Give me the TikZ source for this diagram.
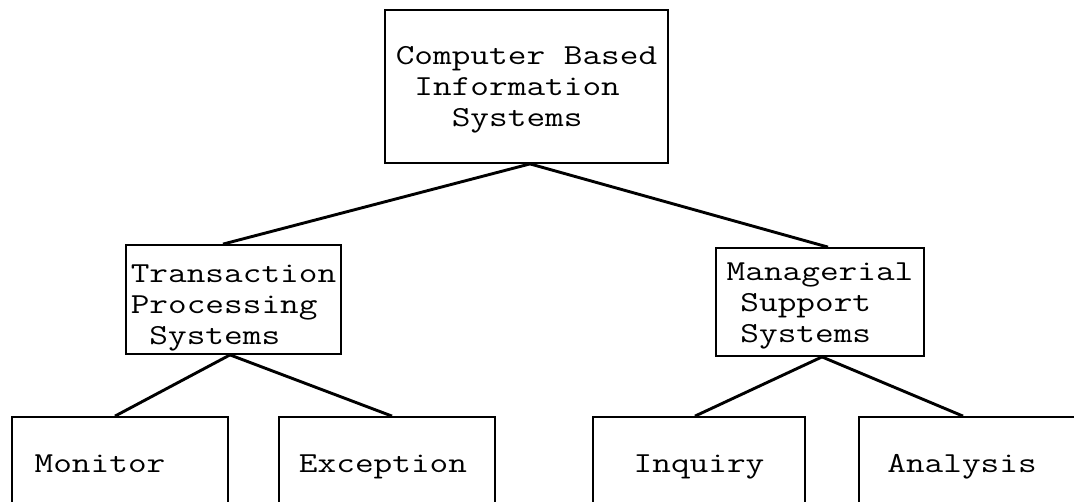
\documentclass[tikz,border=0pt]{standalone}
\usepackage{graphicx}
\newcommand{\lbl}[1]{\scalebox{1.25}[1]{\begin{tabular}[t]{@{}l@{}}#1\end{tabular}}}
\begin{document}
\begin{tikzpicture}[x=1pt,y=-1pt,
  box/.style={draw, line width=1.8pt, inner sep=0pt,
    font=\fontsize{29}{31}\selectfont\ttfamily, text height=20pt},
  link/.style={line width=2.9pt}]
\useasboundingbox (0,0) rectangle (1074,501);
\clip (0,0) rectangle (1074,501);
\node[box, minimum width=283pt, minimum height=153pt, text depth=65pt] (cbis) at (526.5,86.5)
  {\lbl{Computer Based\\\ Information\\\ \ \ Systems}};
\node[box, minimum width=215pt, minimum height=109pt, text depth=55pt] (tps) at (233.5,299.5)
  {\lbl{Transaction\\Processing\\\ Systems}};
\node[box, minimum width=208pt, minimum height=108pt, text depth=64pt] (msys) at (820,302)
  {\lbl{Managerial\\\hspace*{11pt}Support\\\hspace*{11pt}Systems}};
\node[box, minimum width=216pt, minimum height=96pt, text depth=6pt] (mon) at (120,465)
  {\hspace*{-40pt}\lbl{Monitor}};
\node[box, minimum width=216pt, minimum height=96pt, text depth=6pt] (exc) at (387,465)
  {\hspace*{-8pt}\lbl{Exception}};
\node[box, minimum width=212pt, minimum height=96pt, text depth=6pt] (inq) at (699,465)
  {\lbl{Inquiry}};
\node[box, minimum width=241pt, minimum height=96pt, text depth=6pt] (ana) at (979.5,465)
  {\hspace*{-35pt}\lbl{Analysis}};
\draw[link] ([xshift=3.5pt]cbis.south) -- ([xshift=-10.5pt]tps.north);
\draw[link] ([xshift=3.5pt]cbis.south) -- ([xshift=8pt]msys.north);
\draw[link] ([xshift=-3.5pt]tps.south) -- ([xshift=-5pt]mon.north);
\draw[link] ([xshift=-3.5pt]tps.south) -- ([xshift=5pt]exc.north);
\draw[link] ([xshift=2pt]msys.south) -- ([xshift=-4pt]inq.north);
\draw[link] ([xshift=2pt]msys.south) -- ([xshift=-16.5pt]ana.north);
\end{tikzpicture}
\end{document}
